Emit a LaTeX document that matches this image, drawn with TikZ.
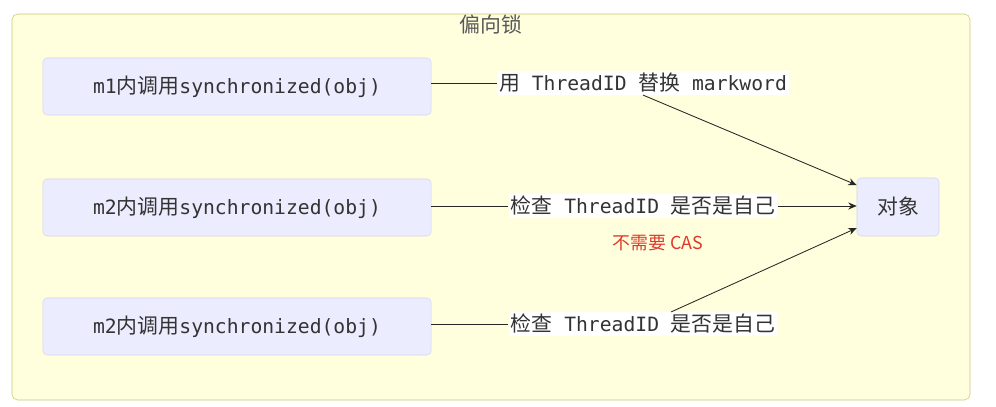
\documentclass[tikz,border=0pt]{standalone}
\usepackage{fontspec}
\setmainfont{DejaVu Sans Mono}
\newfontfamily\cjk[Scale=1.06]{Noto Sans CJK SC}
\usetikzlibrary{arrows.meta}

\definecolor{clusterfill}{HTML}{FFFFDE}
\definecolor{clusterline}{HTML}{C8C87A}
\definecolor{boxfill}{HTML}{ECECFF}
\definecolor{boxline}{HTML}{D4D4F0}
\definecolor{txt}{HTML}{333333}
\definecolor{notered}{HTML}{E0392B}

\tikzset{
    call/.style={draw=boxline, fill=boxfill, rounded corners=3pt,
        minimum width=9.7cm, minimum height=1.425cm, text=txt,
        font=\fontsize{14}{16}\selectfont},
    edgelab/.style={fill=white, inner sep=1.5pt, text=txt,
        font=\fontsize{14}{16}\selectfont},
    link/.style={draw=black!85, line width=0.6pt},
    tip/.style={-{Stealth[length=6pt,width=5pt]}}
}

\begin{document}
\begin{tikzpicture}[x=0.025cm, y=-0.025cm]
    \useasboundingbox (0,0) rectangle (996,407);
    % cluster
    \draw[draw=clusterline, fill=clusterfill, rounded corners=4pt] (12,14) rectangle (970,400);
    \node[text=black!65, font=\fontsize{14}{16}\selectfont] (title) at (491,25) {\cjk 偏向锁};

    % callers
    \node[call] (m1) at (237,86.5) {m1{\cjk 内调用}synchronized(obj)};
    \node[call] (m2) at (237,207.5) {m2{\cjk 内调用}synchronized(obj)};
    \node[call] (m3) at (237,326.5) {m2{\cjk 内调用}synchronized(obj)};

    % object
    \node[call, minimum width=2.05cm, minimum height=1.45cm] (obj) at (898,207) {\cjk 对象};

    % edge labels
    \node[edgelab] (lab1) at (643,83) {{\cjk 用} ThreadID {\cjk 替换} markword};
    \node[edgelab] (lab2) at (643,206) {{\cjk 检查} ThreadID {\cjk 是否是自己}};
    \node[edgelab] (lab3) at (643,324) {{\cjk 检查} ThreadID {\cjk 是否是自己}};
    \node[text=notered, font=\fontsize{12}{14}\selectfont] (note) at (658,243) {\cjk 不需要 CAS};

    % connectors
    \draw[link] (m1.east |- lab1.west) -- (lab1.west);
    \draw[link, tip] (lab1.south) -- (obj.152);
    \draw[link] (m2.east |- lab2.west) -- (lab2.west);
    \draw[link, tip] (lab2.east) -- (obj.west |- lab2.east);
    \draw[link] (m3.east |- lab3.west) -- (lab3.west);
    \draw[link, tip] ([xshift=20]lab3.north) -- (obj.207);
\end{tikzpicture}
\end{document}
